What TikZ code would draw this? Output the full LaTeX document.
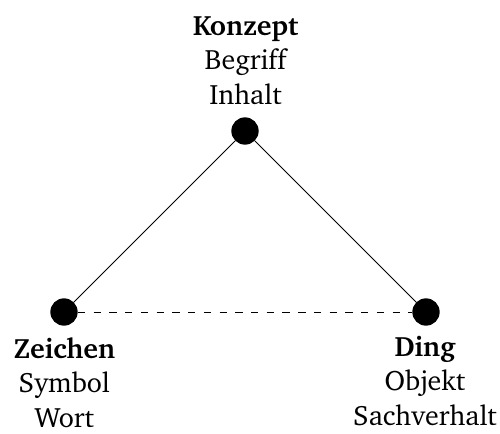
\documentclass[tikz,border=0pt]{standalone}
\usepackage[T1]{fontenc}
\usepackage{charter}
\begin{document}
\begin{tikzpicture}[x=0.75pt,y=-0.75pt,
  dot/.style={circle,fill=black,inner sep=0pt,minimum size=20.5pt},
  lbl/.style={align=center,inner sep=0pt,font=\fontsize{21}{25.9}\selectfont},
  edge/.style={line width=0.75pt},
  dashedge/.style={line width=0.75pt,dash pattern=on 5.5pt off 6.3pt}]
\useasboundingbox (0,0) rectangle (500,433);
\node[dot] (k) at (245,131) {};
\node[dot] (z) at (64,312) {};
\node[dot] (d) at (426,312) {};
\draw[edge] (k) -- (z);
\draw[edge] (k) -- (d);
\draw[dashedge] (z) -- (d);
\node[lbl,anchor=base] (kt) at (245.5,104.3) {\textbf{Konzept}\\Begriff\\Inhalt};
\node[lbl,anchor=base] (zt) at (64.3,427.3) {\textbf{Zeichen}\\Symbol\\Wort};
\node[lbl,anchor=base] (dt) at (425,425.5) {\textbf{Ding}\\Objekt\\Sachverhalt};
\end{tikzpicture}
\end{document}
